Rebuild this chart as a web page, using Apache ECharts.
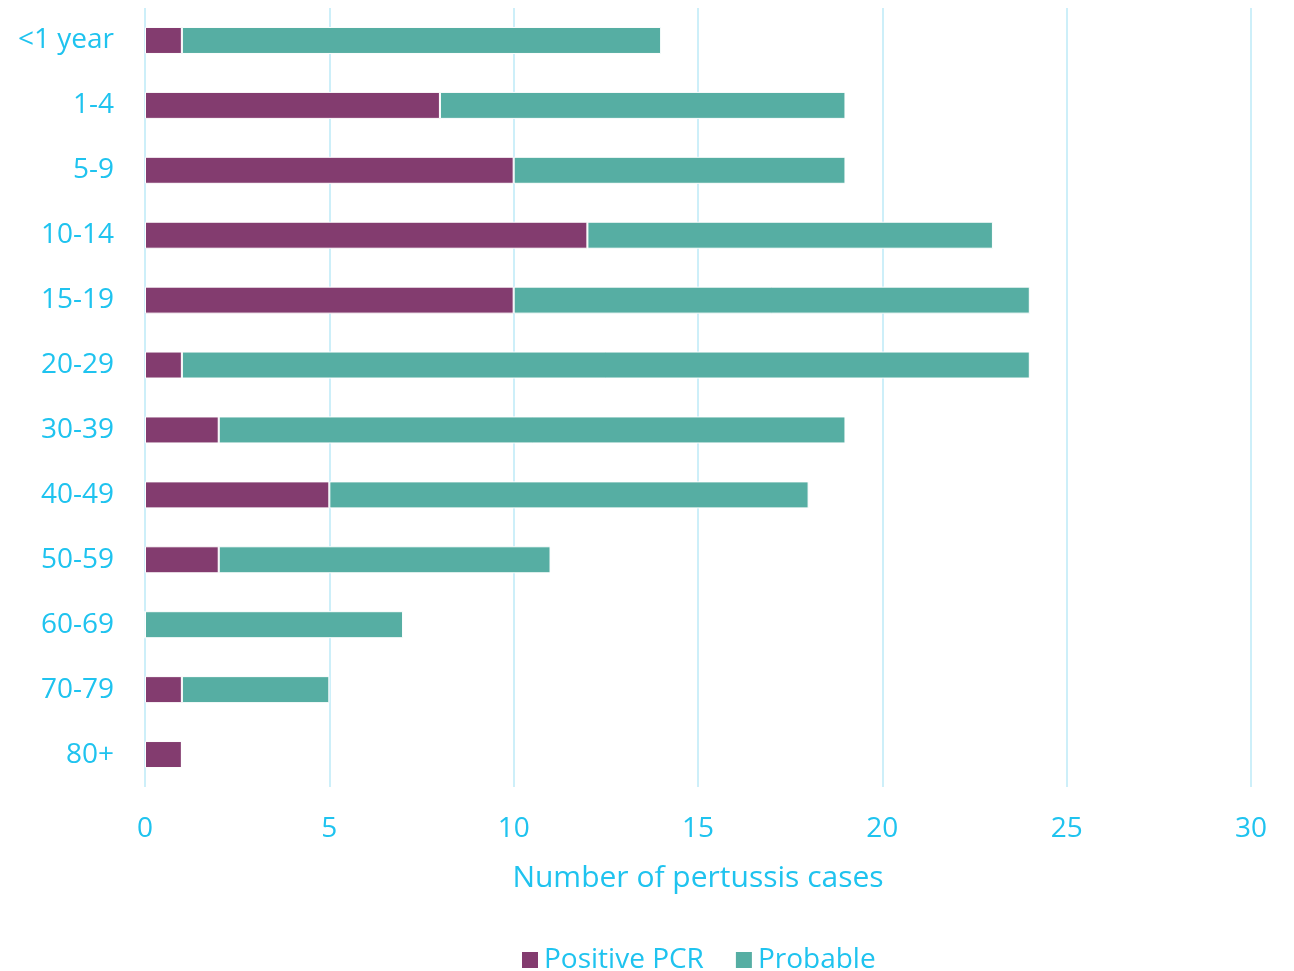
<!DOCTYPE html>
<html>
<head>
  <meta charset="utf-8">
  <style>
    html, body { width: 100%; height: 100%; margin: 0; padding: 0; overflow: hidden; background: #fff; }
    #container { width: 1294px; height: 971px; }
  </style>
</head>
<body>
  <div id="container"></div>
  <script src="https://cdn.jsdelivr.net/npm/echarts@6/dist/echarts.min.js"></script>
  <script>
    // age groups, top to bottom
    var ageGroups = ['<1 year', '1-4', '5-9', '10-14', '15-19', '20-29', '30-39', '40-49', '50-59', '60-69', '70-79', '80+'];
    var positivePCR = [1, 8, 10, 12, 10, 1, 2, 5, 2, 0, 1, 1];
    var probable = [13, 11, 9, 11, 14, 23, 17, 13, 9, 7, 4, 0];
    var xTicks = [0, 5, 10, 15, 20, 25, 30];

    var textColor = '#1fc3ef';
    var font = 'Open Sans';

    var chart = echarts.init(document.getElementById('container'));

    chart.setOption({
      animation: false,
      textStyle: { fontFamily: font },
      grid: { left: 145, right: 43, top: 8, bottom: 184, containLabel: false },
      legend: {
        top: 941,
        left: 515,
        itemWidth: 18,
        itemHeight: 18,
        itemGap: 30,
        icon: 'rect',
        textStyle: { color: textColor, fontSize: 28, fontFamily: font },
        data: ['Positive PCR', 'Probable']
      },
      xAxis: {
        type: 'value',
        min: xTicks[0],
        max: xTicks[xTicks.length - 1],
        interval: 5,
        name: 'Number of pertussis cases',
        nameLocation: 'middle',
        nameGap: 76,
        nameTextStyle: { color: textColor, fontSize: 30, fontFamily: font },
        axisLine: { show: false },
        axisTick: { show: false },
        axisLabel: { color: textColor, fontSize: 28, margin: 28, fontFamily: font },
        splitLine: { show: true, lineStyle: { color: '#cdeff9', width: 2 } }
      },
      yAxis: {
        type: 'category',
        inverse: true,
        data: ageGroups,
        axisLine: { show: false },
        axisTick: { show: false },
        axisLabel: { color: textColor, fontSize: 28, margin: 31, fontFamily: font }
      },
      series: [
        {
          name: 'Positive PCR',
          type: 'bar',
          stack: 'total',
          barWidth: 27,
          itemStyle: { color: '#833c6f', borderColor: '#ffffff', borderWidth: 1 },
          data: positivePCR
        },
        {
          name: 'Probable',
          type: 'bar',
          stack: 'total',
          barWidth: 27,
          itemStyle: { color: '#56aea3', borderColor: '#ffffff', borderWidth: 1 },
          data: probable
        }
      ]
    });
  </script>
</body>
</html>
